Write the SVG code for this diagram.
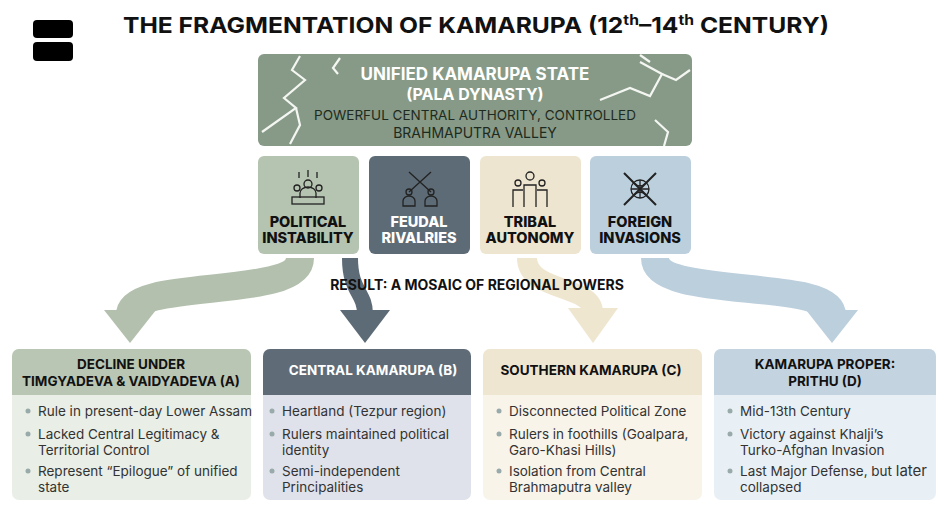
<svg xmlns="http://www.w3.org/2000/svg" width="947" height="513" viewBox="0 0 947 513">
<style>
text{font-family:Inter,"Open Sans","Liberation Sans",sans-serif}
.t{font-weight:700;fill:#111}
.h{font-weight:700;font-size:13.5px;text-anchor:middle}
.c{font-weight:800;font-size:14.5px;text-anchor:middle}
.b{font-size:13.5px;fill:#333}
.dot{fill:#9aa}
.ic{fill:none;stroke:#222;stroke-width:1.3}
.crack{fill:none;stroke:#f4f6f2;stroke-width:2.2}
</style>
<rect width="947" height="513" fill="#fff"/>
<rect x="33" y="20" width="40" height="18" rx="4" fill="#000"/>
<rect x="33" y="42" width="40" height="19" rx="4" fill="#000"/>
<text class="t" x="476" y="33" font-size="22" text-anchor="middle" textLength="706" lengthAdjust="spacingAndGlyphs">THE FRAGMENTATION OF KAMARUPA (12<tspan font-size="14" dy="-8">th</tspan><tspan dy="8">–14</tspan><tspan font-size="14" dy="-8">th</tspan><tspan dy="8"> CENTURY)</tspan></text>

<g id="top">
<rect x="258" y="54" width="434" height="92" rx="6" fill="#869a87"/>
<polyline class="crack" points="300,56 292,70 305,80 284,98 296,108 262,132"/>
<polyline class="crack" points="340,58 333,68 338,74"/>
<polyline class="crack" points="296,108 300,125 290,144"/>
<polyline class="crack" points="600,100 630,88 650,96 662,74 640,62"/>
<polyline class="crack" points="662,74 676,80 690,70"/>
<polyline class="crack" points="655,120 668,132 664,146"/>
<polyline class="crack" points="640,55 650,62"/>
<text x="475" y="80" class="h" font-size="17" style="font-size:17px" fill="#fff">UNIFIED KAMARUPA STATE</text>
<text x="475" y="100" class="h" style="font-size:16px" fill="#fff">(PALA DYNASTY)</text>
<text x="475" y="120" font-size="13.5" text-anchor="middle" fill="#1e2a20">POWERFUL CENTRAL AUTHORITY, CONTROLLED</text>
<text x="475" y="138" font-size="14" text-anchor="middle" fill="#1e2a20">BRAHMAPUTRA VALLEY</text>
</g>

<g id="connectors">
<path d="M300,258 C300,300 130,278 130,315" fill="none" stroke="#b3c0ae" stroke-width="28"/>
<polygon points="104,310 156,310 130,343" fill="#b3c0ae"/>
<path d="M350,258 C350,292 365,292 365,314" fill="none" stroke="#5d6b76" stroke-width="16"/>
<polygon points="340,310 390,310 365,343" fill="#5d6b76"/>
<path d="M527,258 C527,292 593,285 593,312" fill="none" stroke="#efe6cf" stroke-width="20"/>
<polygon points="568,308 618,308 593,343" fill="#efe6cf"/>
<path d="M655,258 C655,300 832,278 832,315" fill="none" stroke="#bccfdd" stroke-width="28"/>
<polygon points="806,310 858,310 832,343" fill="#bccfdd"/>
</g>
<text x="477" y="290" class="t" font-size="14" text-anchor="middle">RESULT: A MOSAIC OF REGIONAL POWERS</text>

<g id="card1">
<rect x="258" y="156" width="101" height="98" rx="6" fill="#b5c3b1"/>
<g class="ic"><circle cx="308" cy="184" r="4"/><path d="M300,198 v-5 a8,6 0 0 1 16,0 v5"/><circle cx="297" cy="188" r="3"/><circle cx="319" cy="188" r="3"/><rect x="292" y="197" width="32" height="7"/><path d="M299,172 v6 M308,170 v7 M317,172 v6"/></g>
<text x="308" y="227" class="c" fill="#111">POLITICAL</text>
<text x="308" y="243" class="c" fill="#111">INSTABILITY</text>
</g>
<g id="card2">
<rect x="369" y="156" width="101" height="98" rx="6" fill="#5d6b76"/>
<g class="ic" stroke="#e8ecef"><path d="M409,172 l22,20 M431,172 l-22,20"/><circle cx="409" cy="192" r="3"/><circle cx="431" cy="192" r="3"/><path d="M403,206 v-5 a6,5 0 0 1 12,0 v5 z M425,206 v-5 a6,5 0 0 1 12,0 v5 z"/></g>
<text x="419" y="227" class="c" fill="#fff">FEUDAL</text>
<text x="419" y="243" class="c" fill="#fff">RIVALRIES</text>
</g>
<g id="card3">
<rect x="480" y="156" width="101" height="98" rx="6" fill="#ede5cf"/>
<g class="ic"><circle cx="530" cy="176" r="4"/><circle cx="518" cy="183" r="3"/><circle cx="542" cy="183" r="3"/><path d="M524,207 v-22 h12 v22 M513,207 v-17 h10 M537,190 h10 v17"/></g>
<text x="530" y="227" class="c" fill="#111">TRIBAL</text>
<text x="530" y="243" class="c" fill="#111">AUTONOMY</text>
</g>
<g id="card4">
<rect x="590" y="156" width="101" height="98" rx="6" fill="#bccfdd"/>
<g class="ic"><circle cx="640" cy="189" r="9"/><path d="M631,189 h18 M640,180 v18 M634,183 q6,6 12,0 M634,195 q6,-6 12,0"/><path d="M624,173 l32,32 M656,173 l-32,32" stroke-width="2"/></g>
<text x="640" y="227" class="c" fill="#111">FOREIGN</text>
<text x="640" y="243" class="c" fill="#111">INVASIONS</text>
</g>

<g id="boxA">
<rect x="12" y="349" width="239" height="151" rx="7" fill="#e9eee6"/>
<path d="M12,395 v-39 a7,7 0 0 1 7,-7 h225 a7,7 0 0 1 7,7 v39 z" fill="#b9c6b4"/>
<text x="131" y="369" class="h" fill="#111">DECLINE  UNDER</text>
<text x="131" y="386" class="h" fill="#111">TIMGYADEVA &amp; VAIDYADEVA (A)</text>
<circle class="dot" cx="28" cy="411" r="2.5"/><text x="38" y="416" class="b">Rule in present-day Lower Assam</text>
<circle class="dot" cx="28" cy="434" r="2.5"/><text x="38" y="439" class="b">Lacked Central Legitimacy &amp;</text><text x="38" y="455" class="b">Territorial Control</text>
<circle class="dot" cx="28" cy="471" r="2.5"/><text x="38" y="476" class="b">Represent “Epilogue” of unified</text><text x="38" y="492" class="b">state</text>
</g>
<g id="boxB">
<rect x="263" y="349" width="208" height="151" rx="7" fill="#dfe2ea"/>
<path d="M263,395 v-39 a7,7 0 0 1 7,-7 h194 a7,7 0 0 1 7,7 v39 z" fill="#5f6c77"/>
<text x="373" y="375" class="h" fill="#fff">CENTRAL KAMARUPA (B)</text>
<circle class="dot" cx="272" cy="411" r="2.5"/><text x="282" y="416" class="b">Heartland (Tezpur region)</text>
<circle class="dot" cx="272" cy="434" r="2.5"/><text x="282" y="439" class="b">Rulers maintained political</text><text x="282" y="455" class="b">identity</text>
<circle class="dot" cx="272" cy="471" r="2.5"/><text x="282" y="476" class="b">Semi-independent</text><text x="282" y="492" class="b">Principalities</text>
</g>
<g id="boxC">
<rect x="483" y="349" width="219" height="151" rx="7" fill="#f8f4ea"/>
<path d="M483,395 v-39 a7,7 0 0 1 7,-7 h205 a7,7 0 0 1 7,7 v39 z" fill="#efe6d1"/>
<text x="591" y="375" class="h" fill="#111">SOUTHERN KAMARUPA (C)</text>
<circle class="dot" cx="499" cy="411" r="2.5"/><text x="509" y="416" class="b">Disconnected Political Zone</text>
<circle class="dot" cx="499" cy="434" r="2.5"/><text x="509" y="439" class="b">Rulers in foothills (Goalpara,</text><text x="509" y="455" class="b">Garo-Khasi Hills)</text>
<circle class="dot" cx="499" cy="471" r="2.5"/><text x="509" y="476" class="b">Isolation from Central</text><text x="509" y="492" class="b">Brahmaputra valley</text>
</g>
<g id="boxD">
<rect x="714" y="349" width="222" height="151" rx="7" fill="#e9f0f5"/>
<path d="M714,395 v-39 a7,7 0 0 1 7,-7 h208 a7,7 0 0 1 7,7 v39 z" fill="#c3d3df"/>
<text x="825" y="369" class="h" fill="#111">KAMARUPA PROPER:</text>
<text x="825" y="386" class="h" fill="#111">PRITHU (D)</text>
<circle class="dot" cx="730" cy="411" r="2.5"/><text x="740" y="416" class="b">Mid-13th Century</text>
<circle class="dot" cx="730" cy="434" r="2.5"/><text x="740" y="439" class="b">Victory against Khalji’s</text><text x="740" y="455" class="b">Turko-Afghan Invasion</text>
<circle class="dot" cx="730" cy="471" r="2.5"/><text x="740" y="476" class="b">Last Major Defense, but <tspan font-size="15">later</tspan></text><text x="740" y="492" class="b">collapsed</text>
</g>
</svg>
